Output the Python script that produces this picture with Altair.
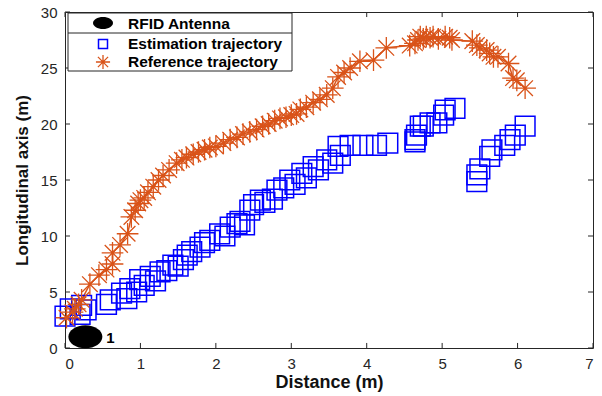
import altair as alt
import pandas as pd

# ---------------- data ----------------
ref_x = [0.02, 0.10, 0.13, 0.18, 0.22, 0.33, 0.45, 0.55, 0.63, 0.63, 0.73, 0.83, 0.88, 0.93,
         0.97, 1.00, 1.05, 1.10, 1.17, 1.24, 1.30, 1.38, 1.48, 1.55, 1.61, 1.70, 1.77, 1.85,
         1.92, 2.00, 2.10, 2.19, 2.28, 2.36, 2.45, 2.54, 2.62, 2.70, 2.78, 2.85, 2.93, 3.00,
         3.07, 3.12, 3.20, 3.29, 3.38, 3.47, 3.55, 3.62, 3.70, 3.78, 3.91, 4.09, 4.26, 4.57,
         4.64, 4.68, 4.71, 4.75, 4.79, 4.84, 4.88, 4.95, 5.04, 5.10, 5.13, 5.40, 5.46, 5.50,
         5.59, 5.63, 5.68, 5.74, 5.88, 5.94, 5.99, 6.10]
ref_y = [2.7, 3.2, 3.5, 3.9, 4.3, 5.7, 6.5, 7.0, 7.5, 8.5, 9.2, 10.2, 11.7, 12.3,
         12.9, 13.2, 13.4, 13.9, 14.4, 15.0, 15.4, 15.9, 16.5, 16.8, 17.0, 17.3, 17.5, 17.7,
         17.9, 18.0, 18.3, 18.6, 18.8, 19.1, 19.3, 19.5, 19.8, 20.0, 20.3, 20.5, 20.6, 20.8,
         20.9, 21.3, 21.5, 21.9, 22.2, 22.6, 23.2, 24.2, 24.6, 25.0, 25.6, 25.7, 26.8, 27.0,
         27.2, 27.5, 27.8, 27.6, 27.8, 27.7, 27.8, 27.6, 27.8, 27.7, 27.5, 27.4, 27.05, 26.8,
         26.6, 26.3, 26.0, 26.0, 25.4, 24.1, 23.9, 23.2]

est_x = [0.00, 0.07, 0.20, 0.22, 0.28, 0.55, 0.60, 0.75, 0.82, 0.86, 0.95, 0.99, 1.05, 1.13,
         1.20, 1.26, 1.35, 1.43, 1.50, 1.57, 1.62, 1.68, 1.79, 1.85, 1.92, 2.05, 2.12, 2.19,
         2.28, 2.32, 2.38, 2.45, 2.50, 2.59, 2.65, 2.75, 2.81, 2.90, 2.98, 3.05, 3.14, 3.20,
         3.29, 3.36, 3.47, 3.55, 3.62, 3.65, 3.78, 3.95, 4.13, 4.28, 4.64, 4.64, 4.66, 4.71,
         4.75, 4.84, 4.93, 5.02, 5.04, 5.17, 5.46, 5.46, 5.50, 5.63, 5.66, 5.83, 5.90, 5.97,
         6.10]
est_y = [2.85, 3.5, 3.0, 3.8, 3.4, 3.9, 4.3, 4.9, 4.4, 5.3, 5.0, 6.1, 5.6, 6.4,
         6.0, 6.8, 6.9, 7.4, 7.3, 7.9, 8.3, 8.6, 9.0, 9.4, 9.6, 10.2, 10.0, 10.8,
         11.1, 11.3, 11.0, 12.3, 12.8, 13.2, 13.0, 13.3, 14.1, 14.3, 15.0, 14.6, 15.6, 15.2,
         16.2, 15.9, 16.8, 16.5, 18.0, 17.2, 18.1, 18.1, 18.1, 18.3, 18.4, 18.6, 19.0, 19.8,
         19.8, 20.1, 20.1, 20.8, 21.25, 21.4, 14.85, 15.45, 16.0, 17.1, 17.7, 18.1, 18.6, 19.0,
         19.8]

ant_x = [0.27]
ant_y = [1.0]
ant_label = ["1"]

x_ticks = [0, 1, 2, 3, 4, 5, 6, 7]
y_ticks = [0, 5, 10, 15, 20, 25, 30]
legend_labels = ["RFID Antenna", "Estimation trajectory", "Reference trajectory"]

# ---------------- style ----------------
ORANGE = "#D95319"
BLUE = "#0000FF"
AX = "#262626"
FONT = "Liberation Sans"
STAR = "M-1,0L1,0M0,-1L0,1M-0.72,-0.72L0.72,0.72M-0.72,0.72L0.72,-0.72"
ELLIPSE = "M-1,0A1,0.68,0,1,0,1,0A1,0.68,0,1,0,-1,0Z"
ELLIPSE_L = "M-1,0A1,0.6,0,1,0,1,0A1,0.6,0,1,0,-1,0Z"

ref_df = pd.DataFrame({"x": ref_x, "y": ref_y, "i": list(range(len(ref_x)))})
est_df = pd.DataFrame({"x": est_x, "y": est_y})
ant_df = pd.DataFrame({"x": ant_x, "y": ant_y, "label": ant_label})
xt_df = pd.DataFrame({"x": x_ticks})
yt_df = pd.DataFrame({"y": y_ticks})

xs = alt.Scale(domain=[0, 7], nice=False, zero=False)
ys = alt.Scale(domain=[0, 30], nice=False, zero=False)

xaxis = alt.Axis(values=x_ticks, title="Distance (m)", grid=False, domain=False, ticks=False,
                 labelPadding=8, titlePadding=2, format="d", titleFontSize=18)
yaxis = alt.Axis(values=y_ticks, title="Longitudinal axis (m)", grid=False, domain=False,
                 ticks=False, labelPadding=8, titlePadding=9, format="d")


def X():
    return alt.X("x:Q", scale=xs, axis=xaxis, title="Distance (m)")


def Y():
    return alt.Y("y:Q", scale=ys, axis=yaxis, title="Longitudinal axis (m)")


line = alt.Chart(ref_df).mark_line(color=ORANGE, strokeWidth=1.5).encode(
    x=X(), y=Y(), order="i:Q")

stars = alt.Chart(ref_df).mark_point(shape=STAR, filled=False, stroke=ORANGE,
                                     strokeWidth=1.3, size=470, opacity=1).encode(x=X(), y=Y())

squares = alt.Chart(est_df).mark_point(shape="square", filled=False, stroke=BLUE,
                                       strokeWidth=1.5, size=390, opacity=1).encode(x=X(), y=Y())

antenna = alt.Chart(ant_df).mark_point(shape=ELLIPSE, filled=True, fill="black",
                                       strokeWidth=0, size=1156, opacity=1).encode(x=X(), y=Y())
ant_text = alt.Chart(ant_df).mark_text(align="left", baseline="middle", dx=21, dy=1,
                                       font=FONT, fontSize=15, fontWeight="bold",
                                       color="black").encode(x=X(), y=Y(), text="label:N")

# inward ticks (box style)
tick_b = alt.Chart(xt_df).mark_rule(color=AX, strokeWidth=1).encode(
    x=X(), y=alt.Y(datum=0, scale=ys, axis=yaxis, title="Longitudinal axis (m)"),
    y2=alt.Y2(datum=0.45))
tick_t = alt.Chart(xt_df).mark_rule(color=AX, strokeWidth=1).encode(
    x=X(), y=alt.Y(datum=30, scale=ys, axis=yaxis, title="Longitudinal axis (m)"),
    y2=alt.Y2(datum=29.55))
tick_l = alt.Chart(yt_df).mark_rule(color=AX, strokeWidth=1).encode(
    y=Y(), x=alt.X(datum=0, scale=xs, axis=xaxis, title="Distance (m)"),
    x2=alt.X2(datum=0.066))
tick_r = alt.Chart(yt_df).mark_rule(color=AX, strokeWidth=1).encode(
    y=Y(), x=alt.X(datum=7, scale=xs, axis=xaxis, title="Distance (m)"),
    x2=alt.X2(datum=6.934))

# custom legend box
one = pd.DataFrame({"k": [0]})
leg_box = alt.Chart(one).mark_rect(fill="white", stroke=AX, strokeWidth=1).encode(
    x=alt.value(3), x2=alt.value(227), y=alt.value(1), y2=alt.value(59))
leg_div = alt.Chart(one).mark_rule(color=AX, strokeWidth=1).encode(
    x=alt.value(3), x2=alt.value(227), y=alt.value(21))
leg_ell = alt.Chart(one).mark_point(shape=ELLIPSE_L, filled=True, fill="black", strokeWidth=0,
                                    size=400, opacity=1).encode(x=alt.value(38), y=alt.value(11))
leg_sq = alt.Chart(one).mark_point(shape="square", filled=False, stroke=BLUE, strokeWidth=1.5,
                                   size=81, opacity=1).encode(x=alt.value(38), y=alt.value(32))
leg_st = alt.Chart(one).mark_point(shape=STAR, filled=False, stroke=ORANGE, strokeWidth=1.3,
                                   size=200, opacity=1).encode(x=alt.value(38), y=alt.value(50))

leg_texts = []
for lab, yy in zip(legend_labels, [12, 32, 50]):
    leg_texts.append(
        alt.Chart(pd.DataFrame({"t": [lab]})).mark_text(
            align="left", baseline="middle", font=FONT, fontSize=15.5, fontWeight="bold",
            color="black").encode(x=alt.value(63), y=alt.value(yy), text="t:N"))

chart = alt.layer(
    line, antenna, squares, stars, ant_text, tick_b, tick_t, tick_l, tick_r,
    leg_box, leg_div, leg_ell, leg_sq, leg_st, *leg_texts
).properties(
    width=528, height=336,
    padding={"left": 65, "top": 12, "right": 9, "bottom": 48},
    autosize=alt.AutoSizeParams(type="none"),
    background="white",
).configure_view(
    stroke=AX, strokeWidth=1
).configure_axis(
    labelFont=FONT, labelFontSize=15, labelColor=AX,
    titleFont=FONT, titleFontSize=17, titleFontWeight="bold", titleColor="#111111",
)

chart.save("out.html", embed_options={"renderer": "svg", "actions": False})
